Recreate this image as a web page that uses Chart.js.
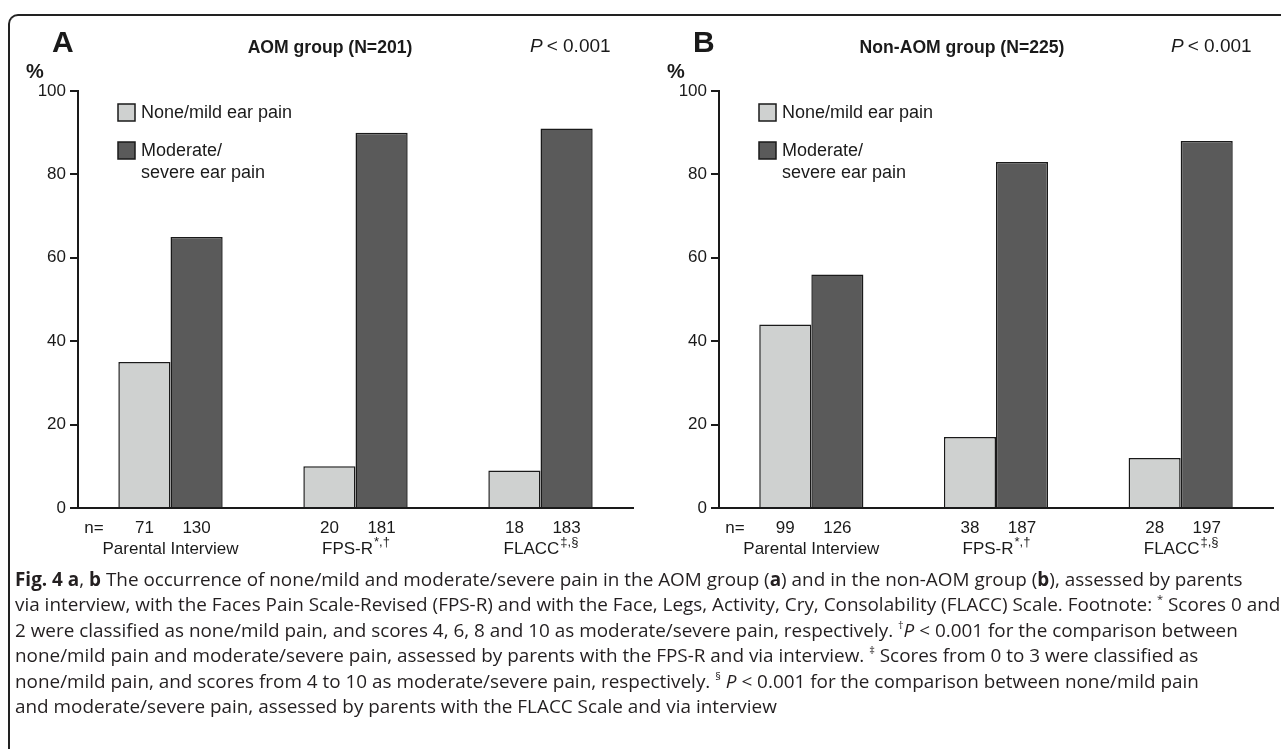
<!DOCTYPE html>
<html>
<head>
<meta charset="utf-8">
<script src="https://cdn.jsdelivr.net/npm/chart.js@4.4.1/dist/chart.umd.min.js"></script>
<style>
    body { margin: 0; background: #fff; width: 1281px; height: 750px; overflow: hidden; position: relative; }
    #frame { position: absolute; left: 8px; top: 14px; width: 1400px; height: 733px; border-left: 2px solid #222; border-top: 2px solid #222; border-top-left-radius: 10px; }
    canvas { position: absolute; top: 0; }
    #chartA { left: 0; }
    #chartB { left: 641px; }
    #caption { position: absolute; left: 15px; top: 567px; font-family: "Open Sans", sans-serif; font-size: 18.9px; line-height: 25.4px; color: #231f20; white-space: nowrap; }
    #caption sup { font-size: 11px; line-height: 0; vertical-align: 8px; }
</style>
</head>
<body>
<div id="frame"></div>
<canvas id="chartA" width="641" height="590"></canvas>
<canvas id="chartB" width="640" height="590"></canvas>
<div id="caption">
<b>Fig. 4 a</b>, <b>b</b> The occurrence of none/mild and moderate/severe pain in the AOM group (<b>a</b>) and in the non-AOM group (<b>b</b>), assessed by parents<br>
via interview, with the Faces Pain Scale-Revised (FPS-R) and with the Face, Legs, Activity, Cry, Consolability (FLACC) Scale. Footnote: <sup>*</sup> Scores 0 and<br>
2 were classified as none/mild pain, and scores 4, 6, 8 and 10 as moderate/severe pain, respectively. <sup>&dagger;</sup><i>P</i> &lt; 0.001 for the comparison between<br>
none/mild pain and moderate/severe pain, assessed by parents with the FPS-R and via interview. <sup>&Dagger;</sup> Scores from 0 to 3 were classified as<br>
none/mild pain, and scores from 4 to 10 as moderate/severe pain, respectively. <sup>&sect;</sup> <i>P</i> &lt; 0.001 for the comparison between none/mild pain<br>
and moderate/severe pain, assessed by parents with the FLACC Scale and via interview
</div>
<script>
// data
var categories = ['Parental Interview', 'FPS-R', 'FLACC'];
var categoryMarks = ['', '*,\u2020', '\u2021,\u00a7'];
var seriesNames = ['None/mild ear pain', 'Moderate/severe ear pain'];
var legendLines = [['None/mild ear pain'], ['Moderate/', 'severe ear pain']];
var yTicks = [0, 20, 40, 60, 80, 100];

var aomMild = [35, 10, 9];          // % none/mild, AOM group
var aomSevere = [65, 90, 91];       // % moderate/severe, AOM group
var aomMildN = [71, 20, 18];
var aomSevereN = [130, 181, 183];

var nonMild = [44, 17, 12];         // % none/mild, non-AOM group
var nonSevere = [56, 83, 88];
var nonMildN = [99, 38, 28];
var nonSevereN = [126, 187, 197];

var FONT = '"Liberation Sans", Arial, Helvetica, sans-serif';
var INK = '#1a1a1a';

// draws panel letter, title, P value, legend, n row and category labels
var figureText = {
    id: 'figureText',
    afterDraw: function(chart, args, opts) {
        var ctx = chart.ctx;
        var area = chart.chartArea;
        ctx.save();
        ctx.fillStyle = INK;
        ctx.textBaseline = 'alphabetic';

        ctx.textAlign = 'left';
        ctx.font = 'bold 30px ' + FONT;
        ctx.fillText(opts.letter, 52, 52);

        ctx.textAlign = 'center';
        ctx.font = 'bold 17.6px ' + FONT;
        ctx.fillText(opts.title, opts.titleX, 53);

        ctx.textAlign = 'left';
        ctx.font = 'italic 19px ' + FONT;
        ctx.fillText('P', 530, 52);
        var pw = ctx.measureText('P').width;
        ctx.font = '19px ' + FONT;
        ctx.fillText('< 0.001', 530 + pw + 4, 52);

        ctx.font = 'bold 20px ' + FONT;
        ctx.fillText('%', 26, 78);

        // legend
        chart.data.datasets.forEach(function(ds, i) {
            var bx = area.left + 40;
            var by = area.top + 13 + i * 38;
            ctx.fillStyle = ds.backgroundColor;
            ctx.fillRect(bx, by, 17, 17);
            ctx.strokeStyle = INK;
            ctx.lineWidth = 1.5;
            ctx.strokeRect(bx, by, 17, 17);
            ctx.fillStyle = INK;
            ctx.font = '18px ' + FONT;
            ctx.textBaseline = 'middle';
            legendLines[i].forEach(function(t, k) {
                ctx.fillText(t, bx + 23, by + 9 + k * 22);
            });
        });

        // n= row
        ctx.textAlign = 'center';
        ctx.textBaseline = 'middle';
        ctx.font = '17px ' + FONT;
        ctx.fillText('n=', area.left + 16, area.bottom + 20);
        chart.data.datasets.forEach(function(ds, i) {
            chart.getDatasetMeta(i).data.forEach(function(bar, j) {
                ctx.fillText(String(opts.counts[i][j]), bar.x, area.bottom + 20);
            });
        });

        // category labels with superscripts
        chart.data.labels.forEach(function(lab, j) {
            var x = chart.scales.x.getPixelForValue(j);
            ctx.font = '17px ' + FONT;
            var w1 = ctx.measureText(lab).width;
            ctx.font = '13px ' + FONT;
            var w2 = ctx.measureText(categoryMarks[j]).width;
            var start = x - (w1 + w2) / 2;
            ctx.textAlign = 'left';
            ctx.font = '17px ' + FONT;
            ctx.fillText(lab, start, area.bottom + 41);
            ctx.font = '13px ' + FONT;
            ctx.fillText(categoryMarks[j], start + w1 + 1, area.bottom + 34);
        });
        ctx.restore();
    }
};

function chartPanel(id, letter, title, titleX, mild, severe, mildN, severeN) {
    var ctx = document.getElementById(id);
    return new Chart(ctx, {
        type: 'bar',
        data: {
            labels: categories,
            datasets: [{
                label: seriesNames[0],
                data: mild,
                backgroundColor: '#cfd1d0',
                borderColor: INK,
                borderWidth: 1.5,
                borderSkipped: 'bottom'
            }, {
                label: seriesNames[1],
                data: severe,
                backgroundColor: '#5a5a5a',
                borderColor: INK,
                borderWidth: 1.5,
                borderSkipped: 'bottom'
            }]
        },
        options: {
            responsive: false,
            animation: false,
            devicePixelRatio: 1,
            layout: { padding: { top: 91, right: 8, bottom: 74, left: 0 } },
            datasets: { bar: { categoryPercentage: 0.564, barPercentage: 1 } },
            scales: {
                x: {
                    grid: { display: false },
                    border: { display: true, color: INK, width: 2 },
                    ticks: { display: false }
                },
                y: {
                    min: 0,
                    max: 100,
                    afterFit: function(scale) { scale.width = 78; },
                    afterBuildTicks: function(scale) { scale.ticks = yTicks.map(function(v) { return { value: v }; }); },
                    grid: { drawOnChartArea: false, drawTicks: true, tickLength: 8, color: INK, lineWidth: 2 },
                    border: { display: true, color: INK, width: 2 },
                    ticks: { color: INK, padding: 4, font: { family: FONT, size: 17 } }
                }
            },
            plugins: {
                legend: { display: false },
                tooltip: { enabled: false },
                figureText: { letter: letter, title: title, titleX: titleX, counts: [mildN, severeN] }
            }
        },
        plugins: [figureText]
    });
}

chartPanel('chartA', 'A', 'AOM group (N=201)', 330, aomMild, aomSevere, aomMildN, aomSevereN);
chartPanel('chartB', 'B', 'Non-AOM group (N=225)', 321, nonMild, nonSevere, nonMildN, nonSevereN);
</script>
</body>
</html>
